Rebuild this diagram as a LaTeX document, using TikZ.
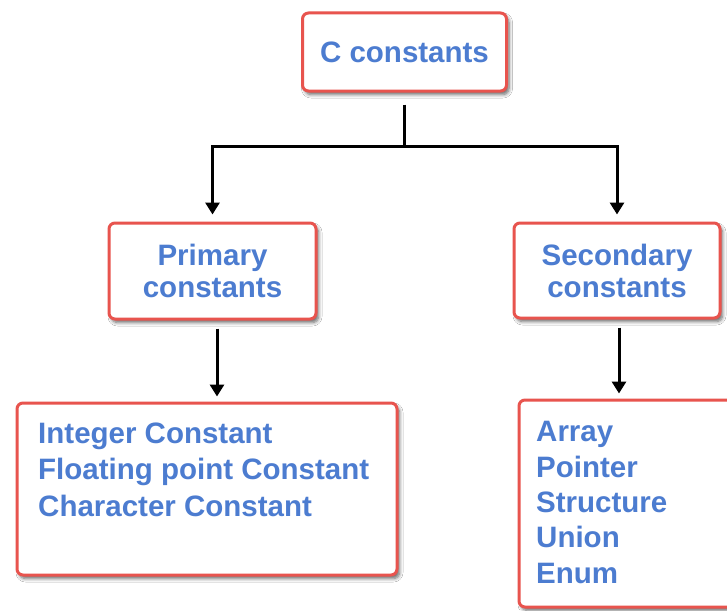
\documentclass[tikz,border=0pt]{standalone}
\usepackage{fontspec}
\setmainfont{Liberation Sans}
\usetikzlibrary{shadows.blur,arrows.meta}
\definecolor{txtblue}{RGB}{76,124,208}
\definecolor{boxred}{RGB}{232,84,78}
\tikzset{
  box/.style={draw=boxred, line width=3pt, rounded corners=6pt, fill=white,
    blur shadow={shadow xshift=2.5pt, shadow yshift=-3.5pt, shadow blur radius=3.5pt,
      shadow blur steps=6, shadow opacity=60},
    font=\bfseries\fontsize{29.5}{32}\selectfont, text=txtblue, align=center, inner sep=0pt},
  listtext/.style={font=\bfseries\fontsize{29.5}{#1}\selectfont, text=txtblue,
    align=left, inner sep=0pt, anchor=base west},
  conn/.style={line width=3pt, black},
  arr/.style={conn, -{Triangle[length=12pt,width=14pt]}},
}
\begin{document}
\begin{tikzpicture}[x=1pt,y=-1pt]
  \useasboundingbox (0,0) rectangle (727,610);
  \clip (0,0) rectangle (727,610);
  \fill[white] (0,0) rectangle (727,610);

  % boxes
  \node[box, minimum width=204pt, minimum height=78pt] (root) at (404.5,52) {C constants};
  \node[box, minimum width=207pt, minimum height=96pt] (prim) at (212.5,271) {Primary\\constants};
  \node[box, minimum width=206pt, minimum height=95pt] (sec) at (617,270.5) {Secondary\\constants};
  \node[box, minimum width=380pt, minimum height=172pt] (ints) at (207,489) {};
  \node[box, minimum width=230pt, minimum height=207pt] (secs) at (634,503.5) {};

  % box contents (anchored at the baseline of the last line)
  \node[listtext=36.5] (intlist) at (38,516)
    {Integer Constant\\Floating point Constant\\Character Constant};
  \node[listtext=35.3] (seclist) at (536,583)
    {Array\\Pointer\\Structure\\Union\\Enum};

  % connectors
  \coordinate (fork) at (404.5,146);
  \draw[conn] ([yshift=-12pt]root.south) -- (fork);
  \draw[arr, shorten >=7pt] (fork) -| (prim.north);
  \draw[arr, shorten >=7pt] (fork) -| (sec.north);

  \coordinate (pa) at ([xshift=4.5pt,yshift=-8pt]prim.south);
  \draw[arr, shorten >=5pt] (pa) -- (pa |- ints.north);
  \coordinate (sa) at ([xshift=2pt,yshift=-8pt]sec.south);
  \draw[arr, shorten >=5pt] (sa) -- (sa |- secs.north);
\end{tikzpicture}
\end{document}
